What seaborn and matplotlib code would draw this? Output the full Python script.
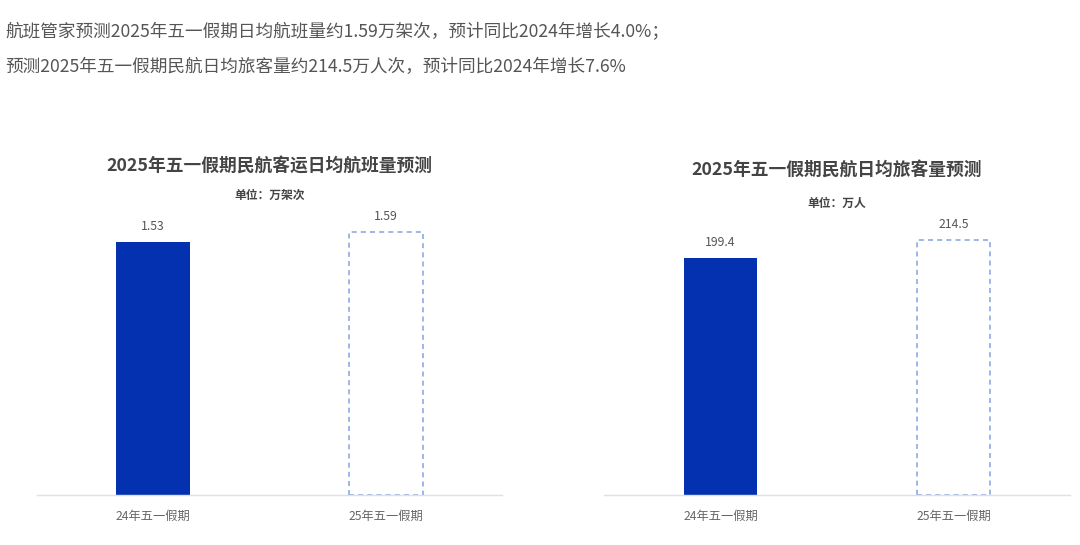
import matplotlib
matplotlib.use("Agg")
import matplotlib.pyplot as plt
import seaborn as sns

# ---------------------------------------------------------------------------
# Data
# ---------------------------------------------------------------------------
periods = ["24年五一假期", "25年五一假期"]
flights = [1.53, 1.59]            # 万架次
passengers = [199.4, 214.5]       # 万人
flight_labels = ["1.53", "1.59"]
passenger_labels = ["199.4", "214.5"]

intro_lines = [
    "航班管家预测2025年五一假期日均航班量约1.59万架次，预计同比2024年增长4.0%；",
    "预测2025年五一假期民航日均旅客量约214.5万人次，预计同比2024年增长7.6%",
]
titles = ["2025年五一假期民航客运日均航班量预测", "2025年五一假期民航日均旅客量预测"]
units = ["单位：万架次", "单位：万人"]

BLUE = "#0431B0"
DASH = "#8DAAE0"
W, H = 1080, 545

sns.set_style("white")
plt.rcParams["font.family"] = ["Noto Sans CJK SC", "DejaVu Sans"]

fig = plt.figure(figsize=(W / 100, H / 100), dpi=100)


def px(x, y):
    """Pixel coords (top-left origin) -> figure fraction."""
    return x / W, 1 - y / H


# intro text
for y, line in zip([32, 67], intro_lines):
    fig.text(*px(5, y), line, fontsize=12.7, color="#555555", va="center", ha="left")


def draw_panel(rect, values, labels, ymax, title, unit, title_y, unit_y):
    ax = fig.add_axes(rect)
    sns.barplot(x=periods, y=values, ax=ax, color=BLUE, width=0.317,
                saturation=1, edgecolor=BLUE, linewidth=0)
    # forecast bar: dashed outline only
    fc = ax.patches[1]
    fc.set_facecolor("none")
    fc.set_edgecolor(DASH)
    fc.set_linewidth(1.2)
    fc.set_linestyle((0, (3, 2.5)))

    for patch, lab in zip(ax.patches, labels):
        ax.annotate(lab, (patch.get_x() + patch.get_width() / 2, patch.get_height()),
                    xytext=(0, 6.5), textcoords="offset points",
                    ha="center", va="bottom", fontsize=8.8, color="#555555")

    ax.set_xlim(-0.5, 1.5)
    ax.set_ylim(0, ymax)
    ax.set_yticks([])
    ax.set_xlabel("")
    ax.set_ylabel("")
    for s in ["top", "left", "right"]:
        ax.spines[s].set_visible(False)
    ax.spines["bottom"].set_color("#e0e0e0")
    ax.spines["bottom"].set_linewidth(1)
    ax.tick_params(axis="x", length=0, pad=10.5, labelsize=8.8, labelcolor="#666666")

    cx = rect[0] + rect[2] / 2
    fig.text(cx, 1 - title_y / H, title, fontsize=12.8, fontweight="bold",
             color="#444444", ha="center", va="center")
    fig.text(cx, 1 - unit_y / H, unit, fontsize=8.5, fontweight="bold",
             color="#444444", ha="center", va="center")
    return ax


ax_h = 295 / H
draw_panel([37 / W, 50 / H, 465 / W, ax_h], flights, flight_labels,
           295 / 165.4, titles[0], units[0], 167, 195)
draw_panel([604 / W, 50 / H, 466 / W, ax_h], passengers, passenger_labels,
           295 / 1.189, titles[1], units[1], 170, 203)

fig.savefig("out.png", dpi=100, facecolor="white")
plt.close(fig)
